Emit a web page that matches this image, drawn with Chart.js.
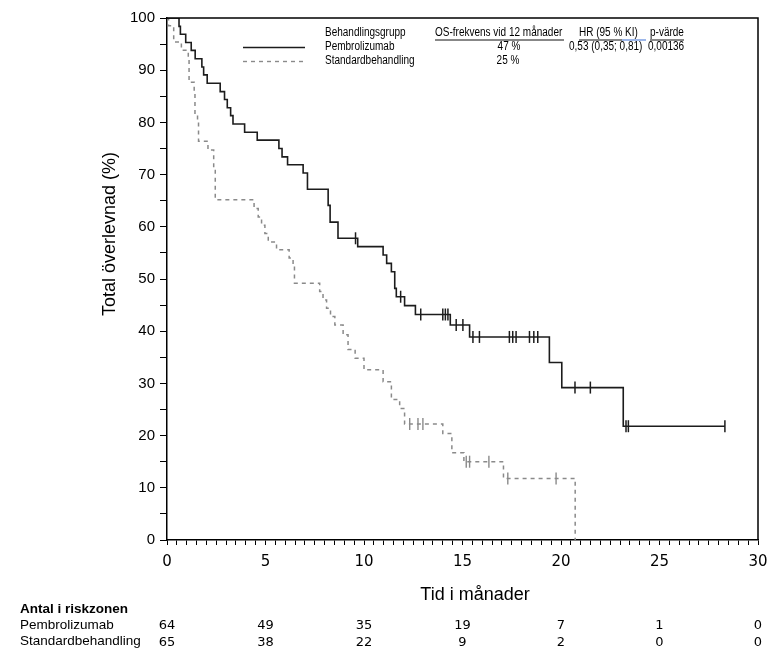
<!DOCTYPE html>
<html>
<head>
<meta charset="utf-8">
<script src="https://cdn.jsdelivr.net/npm/chart.js@4.4.1/dist/chart.umd.min.js"></script>
<style>
  html, body { margin: 0; padding: 0; background: #fff; }
  #wrap { width: 782px; height: 655px; position: relative; }
</style>
</head>
<body>
<div id="wrap"><canvas id="kmChart"></canvas></div>
<script>
// Kaplan-Meier curves: time (months) of each drop, survival (%) after it
const pembroTimes = [0, 0.61, 0.68, 0.95, 1.23, 1.43, 1.77, 1.86, 2.04, 2.70, 2.92, 3.06, 3.23, 3.35,
  3.94, 4.58, 5.68, 5.84, 6.12, 6.91, 7.13, 8.18, 8.28, 8.68, 9.68, 10.97, 11.15, 11.39, 11.56,
  11.64, 12.06, 12.61, 14.38, 15.36, 19.41, 20.04, 23.16, 28.32];
const pembroSurv = [100, 98.4, 96.9, 95.3, 93.8, 92.2, 90.6, 89.1, 87.5, 85.9, 84.4, 82.8, 81.3, 79.7,
  78.1, 76.6, 75.0, 73.4, 71.9, 70.3, 67.2, 64.1, 60.9, 57.8, 56.2, 54.6, 53.0, 51.4, 48.2,
  46.6, 44.9, 43.2, 41.2, 38.9, 34.0, 29.2, 21.8, 21.8];
const pembroCensor = [9.57, 11.86, 12.88, 14.0, 14.13, 14.26, 14.68, 15.02, 15.53, 15.86, 17.38,
  17.55, 17.72, 18.4, 18.62, 18.82, 20.71, 21.49, 23.3, 23.42, 28.32];

const stdTimes = [0, 0.08, 0.34, 0.73, 1.08, 1.12, 1.38, 1.42, 1.55, 1.60, 2.08, 2.37, 2.45, 4.42,
  4.63, 4.80, 4.97, 5.14, 5.56, 6.20, 6.40, 6.47, 7.75, 7.92, 8.10, 8.30, 8.52, 8.94, 9.19, 9.55,
  10.0, 10.97, 11.39, 11.81, 12.06, 14.0, 14.46, 15.07, 17.08, 20.72];
const stdSurv = [100, 98.5, 95.4, 93.8, 92.3, 87.7, 86.2, 81.5, 80.0, 76.4, 74.7, 70.8, 65.2, 63.5,
  61.9, 60.3, 58.7, 57.1, 55.6, 54.0, 52.4, 49.2, 47.6, 46.0, 44.4, 42.8, 41.2, 39.3, 36.5, 34.8,
  32.6, 30.3, 26.9, 25.2, 22.2, 20.4, 16.7, 15.0, 11.8, 0];
const stdCensor = [12.32, 12.74, 12.99, 15.19, 15.36, 16.34, 17.3, 19.75];

// Numbers at risk at 0, 5, ... 30 months
const riskTimes = [0, 5, 10, 15, 20, 25, 30];
const riskPembro = [64, 49, 35, 19, 7, 1, 0];
const riskStd = [65, 38, 22, 9, 2, 0, 0];

// Legend table
const legendHeaders = ["Behandlingsgrupp", "OS-frekvens vid 12 månader", "HR (95 % KI)", "p-värde"];
const legendPembro = ["Pembrolizumab", "47 %", "0,53 (0,35; 0,81)", "0,00136"];
const legendStd = ["Standardbehandling", "25 %"];

function levelAt(times, surv, t) {
  let v = surv[0];
  for (let i = 0; i < times.length; i++) {
    if (times[i] <= t) v = surv[i];
  }
  return v;
}

const pembroColor = "#1c1c1c";
const stdColor = "#8a8a8a";

function narrowText(ctx, text, x, y, align) {
  ctx.save();
  ctx.translate(x, y);
  ctx.scale(0.8, 1);
  ctx.textAlign = align || "left";
  ctx.fillText(text, 0, 0);
  ctx.restore();
}

// Frame, legend table, axis titles and risk table
const extrasPlugin = {
  id: "kmExtras",
  afterDraw: function (chart) {
    const ctx = chart.ctx;
    const area = chart.chartArea;
    const xs = chart.scales.x;
    ctx.save();

    // top and right frame
    ctx.strokeStyle = "#000";
    ctx.lineWidth = 1.5;
    ctx.beginPath();
    ctx.moveTo(area.left, area.top);
    ctx.lineTo(area.right, area.top);
    ctx.lineTo(area.right, area.bottom);
    ctx.stroke();

    // legend table
    ctx.fillStyle = "#000";
    ctx.textBaseline = "middle";
    ctx.font = "12.5px 'Liberation Sans', Arial, sans-serif";
    narrowText(ctx, legendHeaders[0], 325, 33);
    narrowText(ctx, legendHeaders[1], 435, 33);
    narrowText(ctx, legendHeaders[2], 579, 33);
    narrowText(ctx, legendHeaders[3], 650, 33);
    ctx.lineWidth = 1;
    ctx.strokeStyle = "#111";
    ctx.beginPath();
    ctx.moveTo(435, 40); ctx.lineTo(564, 40);
    ctx.moveTo(579, 40); ctx.lineTo(622, 40);
    ctx.moveTo(650, 40); ctx.lineTo(684, 40);
    ctx.stroke();
    ctx.strokeStyle = "#3b6fd4";
    ctx.beginPath();
    ctx.moveTo(622, 40); ctx.lineTo(646, 40);
    ctx.stroke();

    narrowText(ctx, legendPembro[0], 325, 47);
    narrowText(ctx, legendPembro[1], 509, 47, "center");
    narrowText(ctx, legendPembro[2], 569, 47);
    narrowText(ctx, legendPembro[3], 648, 47);
    narrowText(ctx, legendStd[0], 325, 61);
    narrowText(ctx, legendStd[1], 508, 61, "center");

    ctx.lineWidth = 1.6;
    ctx.strokeStyle = pembroColor;
    ctx.beginPath();
    ctx.moveTo(243, 47.5); ctx.lineTo(305, 47.5);
    ctx.stroke();
    ctx.lineWidth = 1.4;
    ctx.strokeStyle = stdColor;
    ctx.setLineDash([4, 4]);
    ctx.beginPath();
    ctx.moveTo(243, 61.5); ctx.lineTo(305, 61.5);
    ctx.stroke();
    ctx.setLineDash([]);

    // axis titles
    ctx.fillStyle = "#000";
    ctx.font = "18px 'Liberation Sans', Arial, sans-serif";
    ctx.textAlign = "center";
    ctx.fillText("Tid i månader", 475, 595);
    ctx.save();
    ctx.translate(110, 234);
    ctx.rotate(-Math.PI / 2);
    ctx.fillText("Total överlevnad (%)", 0, 0);
    ctx.restore();

    // numbers at risk
    ctx.textAlign = "left";
    ctx.font = "bold 13.5px 'Liberation Sans', Arial, sans-serif";
    ctx.fillText("Antal i riskzonen", 20, 609);
    ctx.font = "13.5px 'Liberation Sans', Arial, sans-serif";
    ctx.fillText("Pembrolizumab", 20, 625);
    ctx.fillText("Standardbehandling", 20, 641);
    ctx.font = "13px 'DejaVu Sans', Verdana, sans-serif";
    ctx.textAlign = "center";
    riskTimes.forEach(function (t, i) {
      const px = xs.getPixelForValue(t);
      ctx.fillText(String(riskPembro[i]), px, 626);
      ctx.fillText(String(riskStd[i]), px, 643);
    });
    ctx.restore();
  },
};

const ctx = document.getElementById("kmChart").getContext("2d");
const kmChart = new Chart(ctx, {
  type: "line",
  data: {
    datasets: [
      {
        label: "Pembrolizumab",
        data: pembroTimes.map(function (t, i) { return { x: t, y: pembroSurv[i] }; }),
        stepped: "before",
        borderColor: pembroColor,
        borderWidth: 1.6,
        pointRadius: 0,
        fill: false,
      },
      {
        label: "Standardbehandling",
        data: stdTimes.map(function (t, i) { return { x: t, y: stdSurv[i] }; }),
        stepped: "before",
        borderColor: stdColor,
        borderWidth: 1.5,
        borderDash: [4, 4],
        pointRadius: 0,
        fill: false,
      },
      {
        label: "Pembrolizumab censur",
        type: "scatter",
        data: pembroCensor.map(function (t) { return { x: t, y: levelAt(pembroTimes, pembroSurv, t) }; }),
        showLine: false,
        pointStyle: "line",
        pointRotation: 90,
        pointRadius: 6,
        pointBorderColor: pembroColor,
        pointBorderWidth: 1.5,
      },
      {
        label: "Standardbehandling censur",
        type: "scatter",
        data: stdCensor.map(function (t) { return { x: t, y: levelAt(stdTimes, stdSurv, t) }; }),
        showLine: false,
        pointStyle: "line",
        pointRotation: 90,
        pointRadius: 6,
        pointBorderColor: stdColor,
        pointBorderWidth: 1.4,
      },
    ],
  },
  options: {
    responsive: true,
    maintainAspectRatio: false,
    animation: false,
    layout: {
      padding: { left: 0, right: 24, top: 18, bottom: 0 },
    },
    plugins: {
      legend: { display: false },
      tooltip: { enabled: false },
    },
    scales: {
      x: {
        type: "linear",
        min: 0,
        max: 30,
        afterFit: function (scale) { scale.height = 115; },
        grid: {
          drawOnChartArea: false,
          drawTicks: true,
          tickLength: 5,
          color: "#000",
          lineWidth: 1,
        },
        border: { display: true, color: "#000", width: 1.5 },
        ticks: {
          stepSize: 0.5,
          autoSkip: false,
          maxRotation: 0,
          padding: 8,
          color: "#000",
          font: { size: 15, family: "'DejaVu Sans', Verdana, sans-serif" },
          callback: function (value) {
            return value % 5 === 0 ? value : "";
          },
        },
      },
      y: {
        min: 0,
        max: 100,
        afterFit: function (scale) { scale.width = 167; },
        grid: {
          drawOnChartArea: false,
          drawTicks: true,
          tickLength: 7,
          color: "#000",
          lineWidth: 1,
        },
        border: { display: true, color: "#000", width: 1.5 },
        ticks: {
          stepSize: 5,
          autoSkip: false,
          padding: 5,
          color: "#000",
          font: { size: 15, family: "'Liberation Sans', Arial, sans-serif" },
          callback: function (value) {
            return value % 10 === 0 ? value : "";
          },
        },
      },
    },
  },
  plugins: [extrasPlugin],
});
</script>
</body>
</html>
